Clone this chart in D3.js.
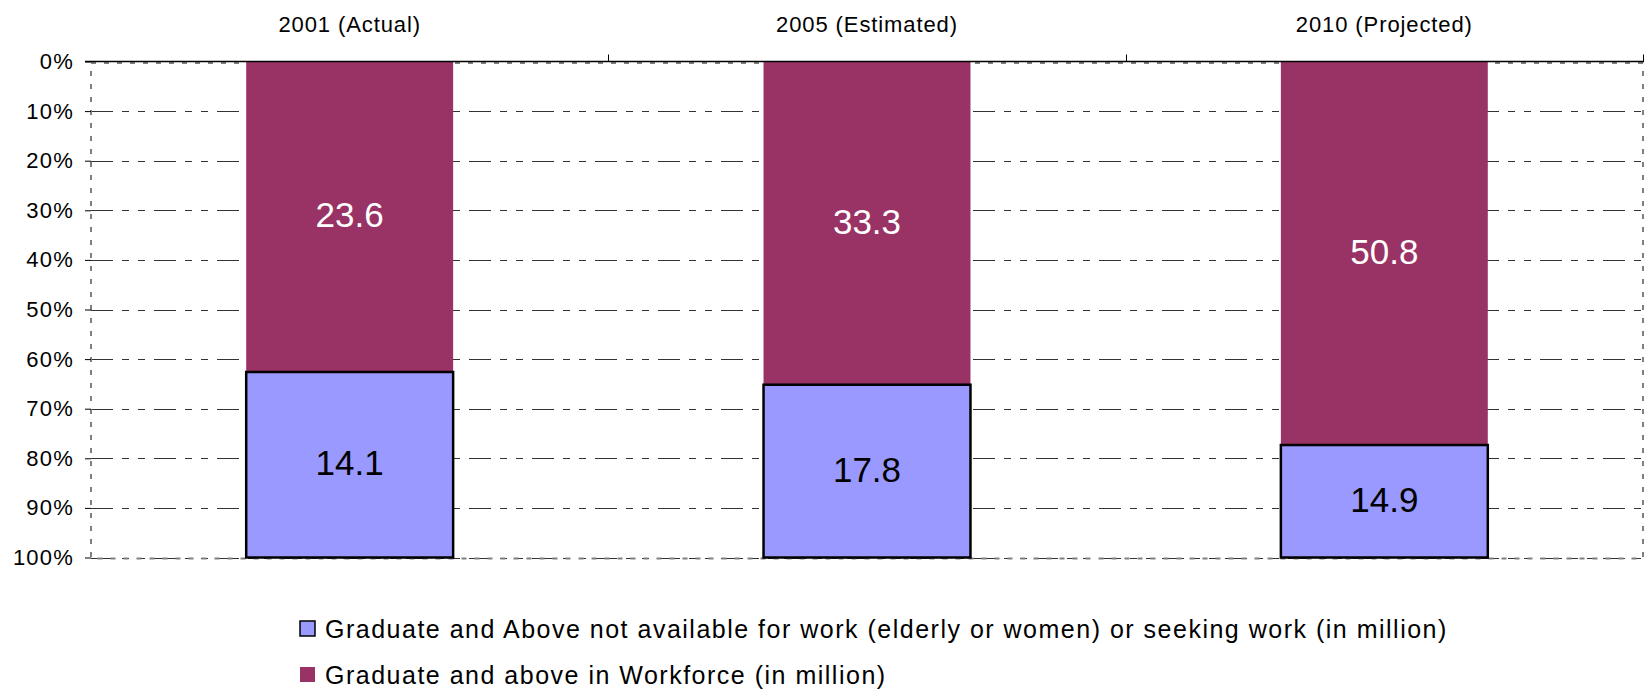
<!DOCTYPE html>
<html><head><meta charset="utf-8">
<script src="https://cdn.jsdelivr.net/npm/d3@7"></script>
<style>
body{margin:0;background:#fff}
text{font-family:"Liberation Sans",Arial,sans-serif;fill:#000}
</style>
</head><body>
<svg id="chart" width="1644" height="689"></svg>
<script>
// ---- data ----
const categories = ["2001 (Actual)", "2005 (Estimated)", "2010 (Projected)"];
const notAvailable = [14.1, 17.8, 14.9];   // Graduate and Above not available / seeking work
const inWorkforce  = [23.6, 33.3, 50.8];   // Graduate and above in Workforce
const seriesNames = [
  "Graduate and Above not available for work (elderly or women) or seeking work (in million)",
  "Graduate and above in Workforce (in million)"
];
const seriesColors = ["#9999FF", "#993366"];
const tickValues = [0, 0.1, 0.2, 0.3, 0.4, 0.5, 0.6, 0.7, 0.8, 0.9, 1.0];
const tickLabels = ["0%", "10%", "20%", "30%", "40%", "50%", "60%", "70%", "80%", "90%", "100%"];

// ---- layout ----
const svg = d3.select("#chart");
const L = 91, R = 1643, T = 61.5, B = 557.5;

const x = d3.scaleBand().domain(categories).range([L, R]).paddingInner(0.6).paddingOuter(0.3);
const y = d3.scaleLinear().domain([0, 1]).range([T, B]);

const rows = categories.map((c, i) => ({cat: c, work: inWorkforce[i], na: notAvailable[i]}));
const stack = d3.stack().keys(["work", "na"]).offset(d3.stackOffsetExpand);
const stacked = stack(rows);

// gridlines
svg.append("g").selectAll("line").data(tickValues.slice(1)).join("line")
  .attr("x1", L).attr("x2", R)
  .attr("y1", d => Math.round(y(d)) + 0.5).attr("y2", d => Math.round(y(d)) + 0.5)
  .attr("stroke", "#333").attr("stroke-width", 1)
  .attr("stroke-dasharray", "22,9,7,9,7,9");

// plot area border (gray dashed)
svg.append("rect")
  .attr("x", L).attr("y", T + 1.5).attr("width", R - L).attr("height", B - T - 0.5)
  .attr("fill", "none").attr("stroke", "#808080").attr("stroke-width", 2)
  .attr("stroke-dasharray", "5,8");

// bars
const keyColor = {work: seriesColors[1], na: seriesColors[0]};
const layers = svg.append("g").selectAll("g").data(stacked).join("g")
  .attr("fill", d => keyColor[d.key]);
layers.selectAll("rect").data(d => d.map(v => ({v, key: d.key}))).join("rect")
  .attr("x", d => x(d.v.data.cat))
  .attr("width", x.bandwidth())
  .attr("y", d => y(d.v[0]))
  .attr("height", d => y(d.v[1]) - y(d.v[0]))
  .attr("stroke", d => d.key === "na" ? "#000" : "none")
  .attr("stroke-width", 2.5);

// data labels
layers.selectAll("text").data(d => d.map(v => ({v, key: d.key}))).join("text")
  .attr("x", d => x(d.v.data.cat) + x.bandwidth() / 2)
  .attr("y", d => y((d.v[0] + d.v[1]) / 2))
  .attr("dy", "0.3em")
  .attr("text-anchor", "middle")
  .style("font-size", "35px")
  .style("fill", d => d.key === "work" ? "#fff" : "#000")
  .text(d => d.v.data[d.key].toFixed(1));

// top category axis
const xAxis = svg.append("g").attr("transform", `translate(0,${T})`)
  .call(d3.axisTop(x).tickSize(0).tickPadding(30));
xAxis.select(".domain").remove();
xAxis.selectAll("text").style("font-size", "22px").style("font-family", "'Liberation Sans',Arial,sans-serif")
  .attr("letter-spacing", "0.9px");
svg.append("line").attr("x1", 85).attr("x2", R + 1).attr("y1", T).attr("y2", T)
  .attr("stroke", "#000").attr("stroke-width", 1.5);
// category boundary ticks
const bounds = [0, 1, 2, 3].map(i => L + i * x.step());
svg.append("g").selectAll("line").data(bounds.slice(1)).join("line")
  .attr("x1", d => Math.round(d) + 0.5).attr("x2", d => Math.round(d) + 0.5)
  .attr("y1", T - 7).attr("y2", T).attr("stroke", "#000").attr("stroke-width", 1);

// left value axis
const yAxis = svg.append("g").attr("transform", `translate(${L},0)`)
  .call(d3.axisLeft(y).tickValues(tickValues).tickFormat((d, i) => tickLabels[i]).tickSize(6).tickPadding(11));
yAxis.select(".domain").remove();
yAxis.selectAll("line").attr("stroke", "#000");
yAxis.selectAll("text").style("font-size", "22px").style("font-family", "'Liberation Sans',Arial,sans-serif")
  .attr("letter-spacing", "1.2px");

// legend
const legendOrder = [0, 1];
const lg = svg.append("g").selectAll("g").data(legendOrder).join("g")
  .attr("transform", (d, i) => `translate(300,${621 + i * 46})`);
lg.append("rect").attr("width", 15).attr("height", 15)
  .attr("fill", d => seriesColors[d])
  .attr("stroke", d => d === 0 ? "#000" : "none").attr("stroke-width", 1.5);
lg.append("text").attr("x", 25).attr("y", 16.5)
  .style("font-size", "25px")
  .attr("letter-spacing", "1.5px")
  .text(d => seriesNames[d]);
</script>
</body></html>
